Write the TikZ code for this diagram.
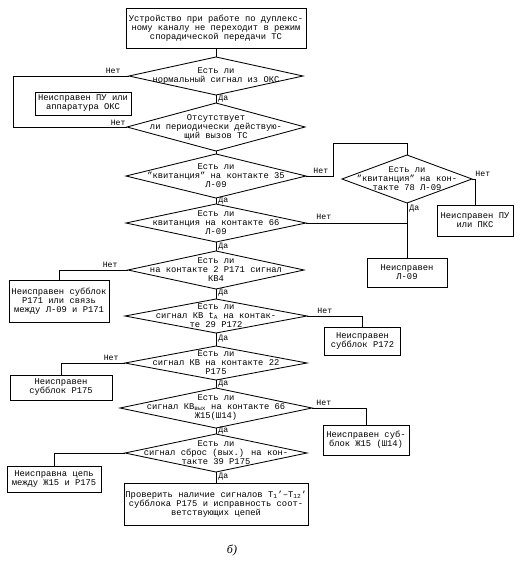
\documentclass[tikz,border=0pt]{standalone}
\usepackage{fontspec}
\setmainfont{Liberation Mono}
\newfontfamily\serifit{Liberation Serif}
\usetikzlibrary{calc}
\newcommand{\dmd}[6]{%
  \coordinate (#1-t) at (#2,{#3-#5});
  \coordinate (#1-b) at (#2,{#3+#5});
  \coordinate (#1-l) at ({#2-#4},#3);
  \coordinate (#1-r) at ({#2+#4},#3);
  \draw (#1-t) -- (#1-r) -- (#1-b) -- (#1-l) -- cycle;
  \node[dtext] (#1) at (#2,#3) {#6};}
\begin{document}
\begin{tikzpicture}[x=1pt,y=-1pt,line width=0.85pt,
  every node/.style={font=\fontsize{8.8}{9.0}\selectfont,inner sep=0pt},
  dtext/.style={align=center},
  box/.style={draw,align=center},
  lbl/.style={font=\fontsize{8.2}{8.2}\selectfont}]
\fill[white] (0,0) rectangle (522,566);
\useasboundingbox (0,0) rectangle (522,566);

% boxes
\node[box,minimum width=180pt,minimum height=40pt] (top) at (216,28)
  {Устройство при работе по дуплекс-\\ному каналу не переходит в режим\\спорадической передачи ТС};
\node[box,minimum width=96pt,minimum height=23pt] (bpu) at (83,103.5)
  {Неисправен ПУ или\\аппаратура ОКС};
\node[box,minimum width=76pt,minimum height=31pt] (bpks) at (475,220.5)
  {Неисправен ПУ\\или ПКС};
\node[box,minimum width=80pt,minimum height=29pt] (bl09) at (407,272.5)
  {Неисправен\\Л-09};
\node[box,minimum width=100pt,minimum height=42pt] (b171) at (59,301)
  {Неисправен субблок\\Р171 или связь\\между Л-09 и Р171};
\node[box,minimum width=76pt,minimum height=28pt] (b172) at (362.5,341)
  {Неисправен\\субблок Р172};
\node[box,minimum width=102pt,minimum height=25pt] (b175) at (61,387.5)
  {Неисправен\\субблок Р175};
\node[box,minimum width=86pt,minimum height=30pt] (bzh) at (366,440)
  {Неисправен суб-\\блок Ж15 (Ш14)};
\node[box,minimum width=94pt,minimum height=26pt] (bcep) at (54,479)
  {Неисправна цепь\\между Ж15 и Р175};
\node[box,minimum width=184pt,minimum height=42pt] (bfin) at (216,504)
  {Проверить наличие сигналов Т\textsubscript{1}'–Т\textsubscript{12}'\\субблока Р175 и исправность соот-\\ветствующих цепей};

% diamonds
\dmd{d1}{216}{76}{87}{19}{Есть ли\\нормальный сигнал из ОКС}
\dmd{d2}{216}{127}{89}{24}{Отсутствует\\ли периодически действую-\\щий вызов ТС}
\dmd{d3}{216}{176}{90}{22}{Есть ли\\"квитанция" на контакте 35\\Л-09}
\dmd{d4}{216}{223}{90}{19}{Есть ли\\квитанция на контакте 66\\Л-09}
\dmd{dr}{407}{179}{65}{24}{Есть ли\\"квитанция" на кон-\\такте 78 Л-09}
\dmd{d5}{216}{270}{88}{19}{Есть ли\\на контакте 2 Р171 сигнал\\КВ4}
\dmd{d6}{216}{316}{91}{17}{Есть ли\\сигнал КВ t\textsubscript{A} на контак-\\те 29 Р172}
\dmd{d7}{216}{363}{91}{17}{Есть ли\\сигнал КВ на контакте 22\\Р175}
\dmd{d8}{216}{408}{96}{20}{Есть ли\\сигнал КВ\textsubscript{вых} на контакте 66\\Ж15(Ш14)}
\dmd{d9}{216}{453}{91}{19}{Есть ли\\сигнал сброс (вых.) на кон-\\такте 39 Р175}

% main column
\draw (top.south) -- (d1-t);
\draw (d1-b) -- (d2-t) node[lbl,pos=0.5,right=2pt] {Да};
\draw (d2-b) -- (d3-t);
\draw (d3-b) -- (d4-t) node[lbl,pos=0.5,right=2pt] {Да};
\draw (d4-b) -- (d5-t) node[lbl,pos=0.5,right=2pt] {Да};
\draw (d5-b) -- (d6-t) node[lbl,pos=0.4,right=2pt] {Да};
\draw (d6-b) -- (d7-t) node[lbl,pos=0.4,right=2pt] {Да};
\draw (d7-b) -- (d8-t) node[lbl,pos=0.4,right=2pt] {Да};
\draw (d8-b) -- (d9-t) node[lbl,pos=0.4,right=2pt] {Да};
\draw (d9-b) -- (bfin.north) node[lbl,pos=0.4,right=2pt] {Да};

% branches
\coordinate (c1) at (13,76);
\coordinate (c2) at (13,127);
\draw (d1-l) -- (c1) -- (c2) -- (d2-l);
\node[lbl,anchor=south east] at ($(d1-l)+(-8,-2)$) {Нет};
\node[lbl,anchor=south east] at ($(d2-l)+(-1,-1)$) {Нет};

\coordinate (c3) at (333,176);
\coordinate (c4) at (333,143);
\coordinate (c5) at (407,143);
\draw (d3-r) -- (c3) -- (c4) -- (c5) -- (dr-t);
\node[lbl,anchor=south west] at ($(d3-r)+(7,-2)$) {Нет};

\draw (dr-r) -| (bpks.north);
\node[lbl,anchor=south west] at ($(dr-r)+(3,-2)$) {Нет};
\draw (dr-b) -- (bl09.north) node[lbl,pos=0.1,right=2pt] {Да};
\coordinate (c6) at (407,223);
\draw (d4-r) -- (c6);
\node[lbl,anchor=south west] at ($(d4-r)+(10,-3)$) {Нет};

\draw (d5-l) -| (b171.north);
\node[lbl,anchor=south east] at ($(d5-l)+(-10,-2)$) {Нет};
\draw (d6-r) -| (b172.north);
\node[lbl,anchor=south west] at ($(d6-r)+(10,-2)$) {Нет};
\draw (d7-l) -| (b175.north);
\node[lbl,anchor=south east] at ($(d7-l)+(-6,-2)$) {Нет};
\draw (d8-r) -| (bzh.north);
\node[lbl,anchor=south west] at ($(d8-r)+(4,-2)$) {Нет};
\draw (d9-l) -| (bcep.north);

\node[font=\serifit\itshape\fontsize{12}{12}\selectfont] (cap) at (232,550) {б)};
\end{tikzpicture}
\end{document}
